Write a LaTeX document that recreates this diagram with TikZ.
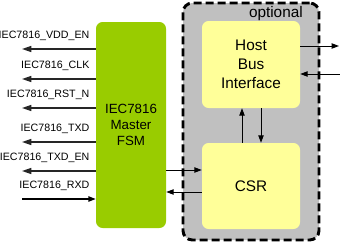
\documentclass[tikz,border=0pt]{standalone}
\usepackage{fontspec}
\setmainfont{Liberation Sans}
\usepackage{xcolor}
\usetikzlibrary{arrows.meta,positioning}

\definecolor{fsmgreen}{HTML}{99CC00}
\definecolor{optgray}{HTML}{C0C0C0}
\definecolor{blkyellow}{HTML}{FFFF99}

\begin{document}
\begin{tikzpicture}[
  x=0.75pt, y=-0.75pt,
  blk/.style={rounded corners=5pt, align=center, inner sep=2pt},
  sig/.style={font=\fontsize{8}{9}\selectfont, anchor=south east, inner sep=1pt},
  arr/.style={-{Triangle[length=5.5pt,width=4pt]}, line width=0.7pt},
  outarr/.style={-{Triangle[length=7pt,width=4.5pt]}, line width=1.1pt, black!85}
]
\useasboundingbox (0,0) rectangle (340,243);

% optional area
\node[blk, draw, fill=optgray, dash pattern=on 6pt off 3pt, line width=2.2pt,
  rounded corners=7pt, minimum width=102pt, minimum height=177.75pt] (opt) at (251,121.5) {};
\node[font=\fontsize{11.5}{13}\selectfont, anchor=north east, inner sep=0pt] (optlbl) at (303,6.5) {optional};

% blocks
\node[blk, fill=fsmgreen, minimum width=52.5pt, minimum height=154.5pt,
  font=\fontsize{10}{12}\selectfont] (fsm) at (131,125) {IEC7816\\Master\\FSM};
\node[blk, fill=blkyellow, minimum width=73.5pt, minimum height=65.25pt,
  font=\fontsize{11.5}{14.2}\selectfont] (hbi) at (251,64.5) {Host\\Bus\\Interface};
\node[blk, fill=blkyellow, minimum width=73.5pt, minimum height=64.5pt,
  font=\fontsize{11.5}{14}\selectfont] (csr) at (251,186) {CSR};

% left side signals
\foreach \nm/\yy in {VDD_EN/49, CLK/79, RST_N/108, TXD/142, TXD_EN/171} {
  \coordinate (s\yy) at (22,\yy);
  \draw[outarr] (fsm.west |- s\yy) -- (s\yy);
  \node[sig] (l\yy) at (91,\yy-7) {IEC7816\_\detokenize\expandafter{\nm}};
}
\coordinate (srxd) at (22,199);
\draw[arr, line width=0.9pt] (srxd) -- (fsm.west |- srxd);
\node[sig] (lrxd) at (91,192) {IEC7816\_RXD};

% fsm <-> csr
\coordinate (h1) at (0,170);
\coordinate (h2) at (0,192);
\draw[arr] (fsm.east |- h1) -- (csr.west |- h1);
\draw[arr] (csr.west |- h2) -- (fsm.east |- h2);

% hbi <-> csr
\coordinate (v1) at (242,0);
\coordinate (v2) at (261,0);
\draw[arr] (csr.north -| v1) -- (hbi.south -| v1);
\draw[arr] (hbi.south -| v2) -- (csr.north -| v2);

% host bus
\coordinate (bo) at (339,46);
\coordinate (bi) at (340,74);
\draw[arr] (hbi.east |- bo) -- (bo);
\draw[arr] (bi) -- (hbi.east |- bi);
\end{tikzpicture}
\end{document}
